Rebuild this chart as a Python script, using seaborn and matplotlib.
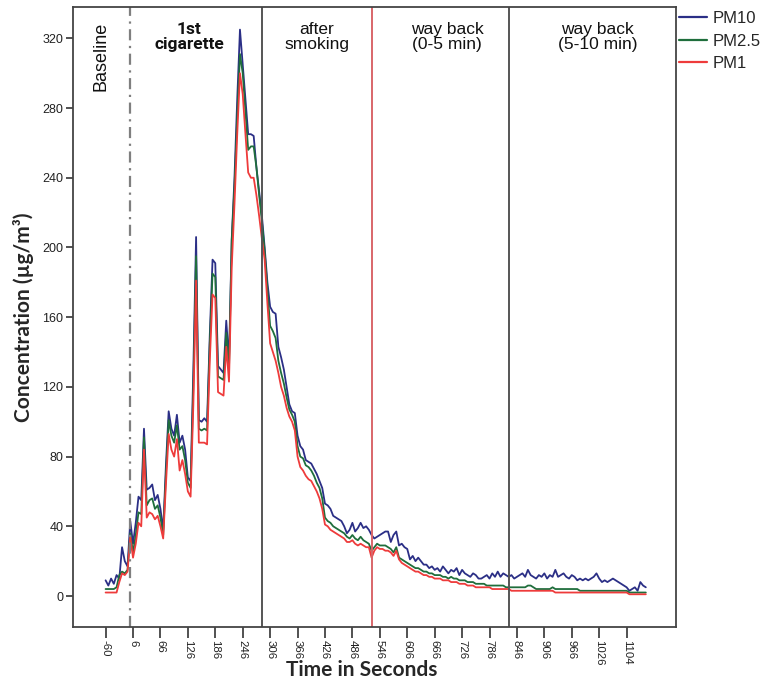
import numpy as np
import pandas as pd
import matplotlib
matplotlib.use("Agg")
import matplotlib.pyplot as plt
import matplotlib.transforms as mtransforms
import seaborn as sns

# concentrations (ug/m3), one value per sample
pm10 = [9, 6, 10, 7, 12, 10, 28, 20, 17, 43,
        30, 42, 57, 55, 96, 61, 62, 64, 55, 58,
        50, 38, 75, 106, 96, 92, 104, 88, 92, 84,
        68, 66, 130, 206, 101, 100, 102, 100, 150, 193,
        191, 132, 130, 128, 158, 135, 205, 240, 285, 325,
        305, 285, 265, 265, 264, 246, 232, 218, 200, 180,
        166, 163, 162, 143, 137, 130, 120, 110, 106, 105,
        92, 86, 84, 78, 77, 76, 73, 70, 66, 62,
        53, 52, 50, 46, 45, 44, 43, 40, 36, 38,
        42, 37, 39, 42, 39, 40, 38, 35, 33, 34,
        35, 36, 37, 37, 31, 35, 37, 29, 30, 28,
        27, 21, 23, 20, 22, 20, 18, 18, 16, 17,
        15, 16, 14, 17, 15, 13, 15, 14, 16, 12,
        15, 13, 12, 11, 13, 12, 10, 10, 11, 12,
        10, 13, 11, 14, 11, 13, 12, 11, 12, 10,
        11, 12, 13, 11, 15, 12, 11, 10, 12, 11,
        13, 10, 12, 11, 15, 11, 12, 13, 11, 10,
        12, 11, 9, 10, 9, 10, 9, 10, 11, 13,
        10, 8, 9, 8, 9, 10, 9, 8, 7, 6,
        5, 3, 4, 5, 3, 8, 6, 5]

pm25 = [4, 4, 4, 4, 5, 12, 14, 13, 15, 36,
        25, 35, 48, 47, 91, 52, 55, 56, 50, 52,
        45, 35, 70, 101, 92, 88, 98, 84, 86, 78,
        65, 62, 120, 195, 96, 95, 96, 95, 145, 185,
        183, 126, 125, 124, 151, 130, 204, 235, 275, 311,
        300, 278, 256, 258, 258, 246, 230, 215, 198, 176,
        155, 152, 148, 135, 128, 122, 114, 107, 104, 100,
        86, 80, 79, 75, 74, 72, 69, 65, 62, 56,
        45, 43, 42, 40, 39, 38, 37, 36, 34, 33,
        35, 33, 32, 34, 32, 31, 30, 26, 28, 30,
        29, 29, 29, 28, 27, 25, 28, 22, 21, 20,
        19, 18, 17, 16, 16, 15, 14, 14, 13, 13,
        12, 12, 12, 11, 11, 10, 11, 10, 10, 9,
        9, 9, 8, 8, 8, 7, 7, 7, 7, 6,
        6, 6, 6, 6, 6, 6, 5, 5, 5, 5,
        5, 5, 5, 5, 6, 6, 5, 4, 4, 4,
        4, 4, 4, 5, 4, 4, 4, 4, 4, 4,
        4, 4, 4, 3, 3, 3, 3, 3, 3, 3,
        3, 3, 3, 3, 3, 3, 3, 3, 3, 3,
        3, 2, 2, 2, 2, 2, 2, 2]

pm1 = [2, 2, 2, 2, 2, 8, 13, 12, 14, 34,
       22, 30, 42, 40, 84, 45, 48, 47, 44, 46,
       40, 33, 64, 93, 84, 80, 90, 72, 78, 70,
       60, 57, 110, 181, 88, 88, 88, 87, 135, 173,
       171, 117, 116, 115, 143, 123, 189, 225, 265, 300,
       288, 265, 243, 240, 240, 230, 218, 205, 193, 168,
       145, 140, 135, 128, 120, 115, 108, 103, 100, 95,
       80, 74, 72, 69, 67, 66, 63, 60, 56, 50,
       41, 40, 38, 37, 36, 35, 34, 33, 31, 31,
       32, 30, 29, 30, 29, 28, 28, 22, 26, 28,
       27, 27, 26, 26, 25, 23, 26, 21, 19, 18,
       17, 16, 15, 14, 14, 13, 12, 12, 11, 11,
       10, 10, 10, 9, 9, 9, 8, 8, 8, 7,
       7, 7, 6, 6, 6, 5, 5, 5, 5, 5,
       5, 4, 4, 4, 4, 4, 4, 4, 3, 3,
       3, 3, 3, 3, 3, 3, 3, 3, 3, 3,
       3, 3, 3, 3, 2, 2, 2, 2, 2, 2,
       2, 2, 2, 2, 2, 2, 2, 2, 2, 2,
       2, 2, 2, 2, 2, 2, 2, 2, 2, 2,
       2, 1, 1, 1, 1, 1, 1, 1]

# labels shown every 10th sample on the time axis
time_labels = ["-60", "6", "66", "126", "186", "246", "306", "366", "426", "486",
               "546", "606", "666", "726", "786", "846", "906", "966", "1026", "1104"]
y_ticks = [0, 40, 80, 120, 160, 200, 240, 280, 320]

# phase boundaries (sample index) and phase names
phase_lines = [9, 57, 97, 147]
phase_names = ["1st\ncigarette", "after\nsmoking", "way back\n(0-5 min)", "way back\n(5-10 min)"]
phase_centers = [30.5, 77, 124.5, 179.5]

series = ["PM10", "PM2.5", "PM1"]
colors = {"PM10": "#2b2f86", "PM2.5": "#1f6e3c", "PM1": "#ee3b3b"}

sample = np.arange(len(pm10))
df = pd.DataFrame({
    "sample": np.concatenate([sample, sample, sample]),
    "conc": pm10 + pm25 + pm1,
    "fraction": ["PM10"] * len(pm10) + ["PM2.5"] * len(pm25) + ["PM1"] * len(pm1),
})

sns.set_theme(style="ticks")
plt.rcParams["font.family"] = ["Liberation Sans", "DejaVu Sans"]

fig = plt.figure(figsize=(7.64, 6.84), dpi=100)
ax = fig.add_axes([0.0955, 0.0833, 0.7893, 0.9065])

sns.lineplot(data=df, x="sample", y="conc", hue="fraction", hue_order=series,
             palette=colors, linewidth=1.3, ax=ax)

ax.axvline(phase_lines[0], color="#7f7f7f", linewidth=1.6, linestyle=(0, (5, 2.5, 1, 2.5)))
ax.axvline(phase_lines[1], color="#555555", linewidth=1.4)
ax.axvline(phase_lines[2], color="#d9666a", linewidth=1.4)
ax.axvline(phase_lines[3], color="#555555", linewidth=1.4)

trans = mtransforms.blended_transform_factory(ax.transData, ax.transAxes)
for name, xc in zip(phase_names, phase_centers):
    bold = name.startswith("1st")
    ax.text(xc, 0.975, name, transform=trans, ha="center", va="top",
            fontsize=12.5, linespacing=0.95, color="#111111",
            fontweight="bold" if bold else "normal",
            family=["Roboto", "DejaVu Sans"] if bold else ["Liberation Sans", "DejaVu Sans"])
ax.text(-1.5, 0.921, "Baseline", transform=trans, ha="center", va="center",
        rotation=90, fontsize=13, color="#111111")

ax.set_xlim(-11.9, 208)
ax.set_ylim(-17.8, 338)
ax.set_xticks(np.arange(0, 10 * len(time_labels), 10))
ax.set_xticklabels(time_labels, rotation=-90, fontsize=8.2)
ax.set_yticks(y_ticks)
ax.set_yticklabels([str(v) for v in y_ticks], fontsize=9)
ax.tick_params(axis="x", length=8, width=1.2, color="#333333", pad=1, labelcolor="#222222")
ax.tick_params(axis="y", length=5, width=1.2, color="#333333", pad=2, labelcolor="#222222")

for side in ["left", "right", "top", "bottom"]:
    ax.spines[side].set_visible(True)
    ax.spines[side].set_color("#444444")
    ax.spines[side].set_linewidth(1.3)

ax.set_xlabel("Time in Seconds", fontsize=15, fontweight="bold", family=["Lato", "DejaVu Sans"])
ax.xaxis.set_label_coords(0.479, -0.053)
ax.set_ylabel("Concentration (µg/m³)", fontsize=15, fontweight="bold", family=["Lato", "DejaVu Sans"], labelpad=6)

sns.move_legend(ax, "upper left", bbox_to_anchor=(1.005, 0.993), frameon=False, title=None,
                fontsize=12, handlelength=1.7, handletextpad=0.3, labelspacing=0.45,
                borderaxespad=0, borderpad=0)
for line in ax.get_legend().get_lines():
    line.set_linewidth(1.6)

fig.savefig("out.png", dpi=100)
